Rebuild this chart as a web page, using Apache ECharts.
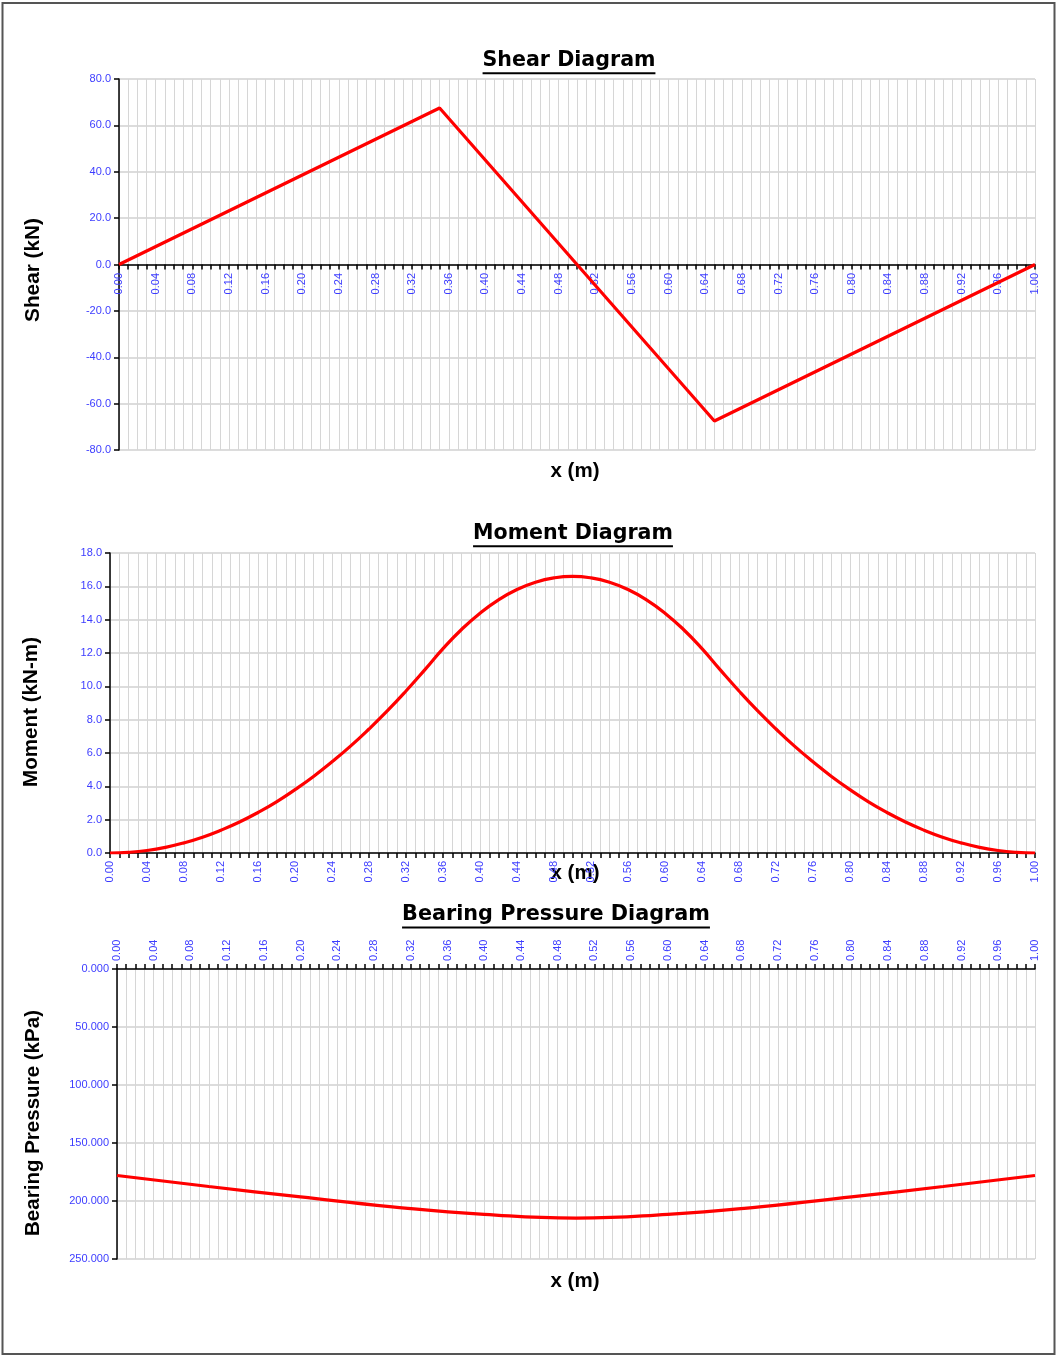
<!DOCTYPE html>
<html><head><meta charset="utf-8">
<script src="https://cdn.jsdelivr.net/npm/echarts@6/dist/echarts.min.js"></script>
<style>html,body{margin:0;padding:0;background:#fff}#c{width:1058px;height:1357px}</style>
</head><body><div id="c"></div>
<script>
// ---- data ----
const shearX = [0.00, 0.35, 0.65, 1.00];
const shearV = [0.0, 67.5, -67.5, 0.0];

const momentX = [0.00,0.02,0.04,0.06,0.08,0.10,0.12,0.14,0.16,0.18,0.20,0.22,0.24,0.26,0.28,0.30,0.32,0.34,0.36,0.38,0.40,0.42,0.44,0.46,0.48,0.50,
                 0.52,0.54,0.56,0.58,0.60,0.62,0.64,0.66,0.68,0.70,0.72,0.74,0.76,0.78,0.80,0.82,0.84,0.86,0.88,0.90,0.92,0.94,0.96,0.98,1.00];
const momentV = [0.00,0.04,0.15,0.34,0.61,0.95,1.37,1.86,2.43,3.07,3.80,4.59,5.47,6.41,7.44,8.54,9.72,10.97,12.26,13.41,14.39,15.19,15.81,16.25,16.51,16.60,
                 16.51,16.25,15.81,15.19,14.39,13.41,12.26,10.97,9.72,8.54,7.44,6.41,5.47,4.59,3.80,3.07,2.43,1.86,1.37,0.95,0.61,0.34,0.15,0.04,0.00];

const bearingX = [0.0,0.1,0.2,0.3,0.4,0.5,0.6,0.7,0.8,0.9,1.0];
const bearingV = [178.0,187.5,196.5,205.0,211.5,214.7,211.5,205.0,196.5,187.5,178.0];

const titles = ["Shear Diagram","Moment Diagram","Bearing Pressure Diagram"];
const yNames = ["Shear (kN)","Moment (kN-m)","Bearing Pressure (kPa)"];
const xName = "x (m)";

// ---- chart ----
const pair = (xs, ys) => xs.map((x,i)=>[x, ys[i]]);
const blue = '#3c3cff';
const gridCol = '#d6d6d6';
const TF = 'Liberation Sans, Arial, sans-serif';
const BF = 'DejaVu Sans, Verdana, sans-serif';

const mc = document.createElement('canvas').getContext('2d');
function measure(text, size, fam){ mc.font = 'bold '+size+'px '+fam; return mc.measureText(text).width; }
function fit(text, target, fam){ return 20*target/measure(text, 20, fam); }

const labelFmt = v => (Math.round(v*100)%4===0) ? v.toFixed(2) : '';
function xAxisCfg(gi, pos, showLabel){
  return {
    type:'value', gridIndex:gi, min:0, max:1, interval:0.01, position:pos,
    axisLine:{show:true, onZero:true, lineStyle:{color:'#000', width:1.5}},
    axisTick:{show:true, length:5, lineStyle:{color:'#000', width:1.5}},
    axisLabel:{show:showLabel, rotate:90, margin:8, fontSize:11, fontFamily:TF, color:blue, formatter:labelFmt},
    splitLine:{show:true, lineStyle:{color:gridCol, width:1}}
  };
}
function yAxisCfg(gi, min, max, interval, dec, inverse){
  return {
    type:'value', gridIndex:gi, min:min, max:max, interval:interval, inverse:!!inverse,
    axisLine:{show:true, onZero:false, lineStyle:{color:'#000', width:1.5}},
    axisTick:{show:true, length:5, lineStyle:{color:'#000', width:1.5}},
    axisLabel:{fontSize:11, fontFamily:TF, color:blue, margin:8, formatter:v=>v.toFixed(dec)},
    splitLine:{show:true, lineStyle:{color:'#d0d0d0', width:1.5}}
  };
}

function titleGraphic(text, cx, cy, targetW){
  const size = fit(text, targetW, BF);
  const w = measure(text, size, BF);
  return [
    {type:'text', x:cx, y:cy, style:{text:text, font:'bold '+size.toFixed(2)+'px '+BF, fill:'#000', align:'center', verticalAlign:'middle'}},
    {type:'line', shape:{x1:cx-w/2, y1:cy+size*0.6, x2:cx+w/2, y2:cy+size*0.6}, style:{stroke:'#000', lineWidth:2}}
  ];
}
function yNameGraphic(text, cx, cy, targetW){
  const size = fit(text, targetW, TF);
  return {type:'text', x:cx, y:cy, rotation:Math.PI/2,
    style:{text:text, font:'bold '+size.toFixed(2)+'px '+TF, fill:'#000', align:'center', verticalAlign:'middle'}};
}
function xNameGraphic(cx, cy){
  const size = fit(xName, 49, TF);
  return {type:'text', x:cx, y:cy, style:{text:xName, font:'bold '+size.toFixed(2)+'px '+TF, fill:'#000', align:'center', verticalAlign:'middle'}};
}

const lineStyle = {color:'#ff0000', width:3.2};
const option = {
  animation:false,
  grid:[
    {left:119, top:79, width:916, height:371},
    {left:110, top:553, width:925, height:300},
    {left:117, top:969, width:918, height:290},
    {left:119, top:79, width:916, height:186}   // label carrier for the shear zero line
  ],
  xAxis:[
    xAxisCfg(0,'bottom',false), xAxisCfg(1,'bottom',true), xAxisCfg(2,'top',true),
    {type:'value', gridIndex:3, min:0, max:1, interval:0.01, position:'bottom',
     axisLine:{show:false}, axisTick:{show:false}, splitLine:{show:false},
     axisLabel:{show:true, rotate:90, margin:8, fontSize:11, fontFamily:TF, color:blue, formatter:labelFmt}}
  ],
  yAxis:[
    yAxisCfg(0,-80,80,20,1), yAxisCfg(1,0,18,2,1), yAxisCfg(2,0,250,50,3,true),
    {type:'value', gridIndex:3, min:0, max:1, show:false}
  ],
  series:[
    {type:'line', xAxisIndex:0, yAxisIndex:0, data:pair(shearX, shearV), symbol:'none', lineStyle:lineStyle, z:5},
    {type:'line', xAxisIndex:1, yAxisIndex:1, data:pair(momentX, momentV), symbol:'none', smooth:true, lineStyle:lineStyle, z:5},
    {type:'line', xAxisIndex:2, yAxisIndex:2, data:pair(bearingX, bearingV), symbol:'none', smooth:true, lineStyle:lineStyle, z:5}
  ],
  graphic:[
    {type:'rect', shape:{x:2.5, y:3, width:1052, height:1351}, style:{fill:null, stroke:'#555', lineWidth:2}},
    ...titleGraphic(titles[0], 569, 61, 173),
    ...titleGraphic(titles[1], 573, 534, 200),
    ...titleGraphic(titles[2], 556, 915, 308),
    yNameGraphic(yNames[0], 33, 270, 104),
    yNameGraphic(yNames[1], 31, 712, 150),
    yNameGraphic(yNames[2], 33, 1123, 226),
    xNameGraphic(575, 471),
    xNameGraphic(575, 873),
    xNameGraphic(575, 1281)
  ]
};
const chart = echarts.init(document.getElementById('c'), null, {renderer:'canvas'});
chart.setOption(option);
</script></body></html>
